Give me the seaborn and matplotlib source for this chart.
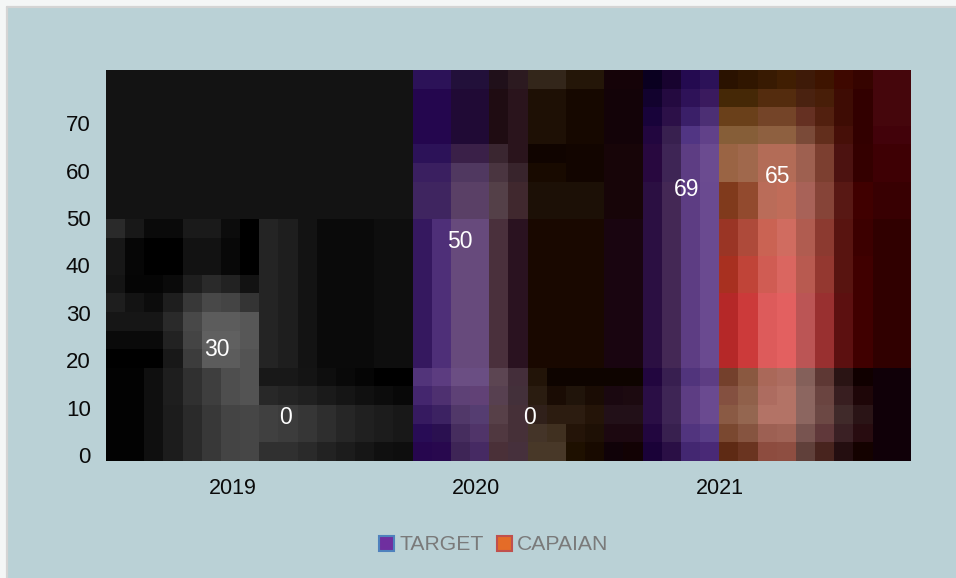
import numpy as np
import pandas as pd
import matplotlib
matplotlib.use("Agg")
import matplotlib.pyplot as plt
from matplotlib.patches import Rectangle
import seaborn as sns

# Chart values
years = ["2019", "2020", "2021"]
target = [30, 50, 69]
capaian = [0, 0, 65]
series_names = ["TARGET", "CAPAIAN"]
y_ticks = [0, 10, 20, 30, 40, 50, 60, 70]

W, H = 956, 578
BG = "#bad1d6"
sns.set_theme(style="white")
plt.rcParams["font.family"] = ["Liberation Sans", "DejaVu Sans"]

fig = plt.figure(figsize=(W / 100, H / 100), dpi=100, facecolor=BG)
L, R, T, B = 106, 910, 70, 461
ROWS, COLS = 21, 42
ax = fig.add_axes([L / W, 1 - B / H, (R - L) / W, (B - T) / H], facecolor="#131313")

df = pd.DataFrame({
    "year": years * 2,
    "series": [series_names[0]] * 3 + [series_names[1]] * 3,
    "value": target + capaian,
})
sns.barplot(data=df, x="year", y="value", hue="series", ax=ax, width=0.65, gap=0.4,
            palette=["#6a4a90", "#e36060"], saturation=1, alpha=0.2, legend=False, zorder=3)
ax.patches[0].set_facecolor("#606060")
ax.patches[0].set_alpha(0.2)

# One category spans 230 px and the first group is centred at x=277
px_per_cat, x_of_first = 230.0, 277.0
px_per_val, y_of_zero = 4.74, 455.0
xlim = ((L - x_of_first) / px_per_cat, (R - x_of_first) / px_per_cat)
ylim = ((y_of_zero - B) / px_per_val, (y_of_zero - T) / px_per_val)
ax.set_xlim(*xlim)
ax.set_ylim(*ylim)


def px_x(p):
    return (p - x_of_first) / px_per_cat


def px_y(p):
    return (y_of_zero - p) / px_per_val


# Backdrop shading per grid row: (first row, last row + 1, first column, colour runs)
shade = [
    (0, 8, 0, "131313*16"),
    (8, 9, 0, "2a2a2a 181818 0a0a0a*2 1a1a1a*2 0c0c0c 000000"),
    (9, 11, 0, "171717 060606 000000*2 121212*2 080808 000000"),
    (11, 12, 0, "141414 050505*2 0a0a0a 1e1e1e 2a2a2a 222222 121212"),
    (12, 13, 0, "1e1e1e 131313 0c0c0c 1e1e1e 383838 484848 444444 343434"),
    (13, 14, 0, "161616*3 2a2a2a 484848 5c5c5c*2 555555"),
    (14, 15, 0, "0a0a0a*3 222222 444444 606060*2 555555"),
    (15, 16, 0, "000000*3 181818 3c3c3c 5c5c5c*2 505050"),
    (8, 16, 8, "242424 1e1e1e 131313 0a0a0a*3 0e0e0e*2"),
    (16, 18, 0, "020202*2 0f0f0f 1e1e1e 303030 3e3e3e 4a4a4a 505050"),
    (18, 21, 0, "020202*2 0f0f0f 1c1c1c 2a2a2a 383838 3e3e3e 404040"),
    (16, 17, 8, "181818*2 141414 0e0e0e 090909 050505 000000*2"),
    (17, 18, 8, "282828 242424 202020 1a1a1a 151515 101010 0c0c0c 080808"),
    (18, 20, 8, "404040 3c3c3c 363636 2e2e2e 262626 202020 1c1c1c 181818"),
    (20, 21, 8, "303030*2 2a2a2a 222222 1c1c1c 161616 101010 0e0e0e"),
    # second group, upper rows
    (0, 1, 16, "2c1258*2 22103a*2 20101a 2c1a20 33261a*2 241608*2 150308*2"),
    (1, 4, 16, "24064e*2 200a35*2 1f0c12 2a141c 1e1005*2 160800*2 130308*2"),
    (4, 5, 16, "2c1258*2 3a2048*2 3a2630 2a141c 100400*2 120500*2 170508*2"),
    (5, 6, 16, "3a1f60*2 503860*2 4a3540 38242c 180a00*2 120500*2 170508*2"),
    (6, 8, 16, "3f2560*2 5a4066*2 544048 40282e 1c1006*2 1c1006*2 170508*2"),
    # second group, middle rows
    (8, 16, 16, "35185f 4e2f78 674a78*2 4a303c 2a1220 190800*2 190800*2 190510*2"),
    # second group, lower rows
    (16, 17, 16, "52347a 5c3c80 6c5080 6a5080 5c4552 442e3a 221408 0e0400*3 0e0400 0e0400"),
    (17, 18, 16, "44266e 4e3070 5c4070 604070 574050 43303a 2a1c10 1a0c04 20140a 1a0c04 1a0810 1c0a10"),
    (18, 19, 16, "361a60 3c2262 4c3460 503a6a 574048 463038 30201a 2c1c10*2 241408 221018*2"),
    (19, 20, 16, "280c55 2a1050 3e2652 4a2f60 503840 463038 443428 403020 241408 1e1005 1c0810*2"),
    (20, 21, 16, "26064e 28084e 341c48 3e2358 4a3038 46303c 483828*2 1e1000 180a00 100208 120204"),
    # third group, first series
    (0, 1, 28, "0a0020 18032f 240a50 2c1258"),
    (1, 2, 28, "12022e 240a40 2e1258 3a1a5e"),
    (2, 3, 28, "18033a 2c1048 3a1f68 4c2f74"),
    (3, 4, 28, "22063f 38204f 4c3080 5f4088"),
    (4, 6, 28, "28083f 3e2555 5a3a80 6c4c90"),
    (6, 16, 28, "2b0f42 442855 5a3a80 6a4a90"),
    (16, 17, 28, "22063f 381f50 4c2f78 5a3a80"),
    (17, 19, 28, "2a0e45 3e2555 5a3a80 6a4a90"),
    (19, 20, 28, "22063f 38204f 4c2f7a 553a85"),
    (20, 21, 28, "1a0238 2a0f45 3a1f6a 422270"),
    # third group, second series
    (0, 1, 32, "2a1200 301600 381a02 401e02 3e1a08 3e1400 3e0800 360400 45060c*2"),
    (1, 2, 32, "452806*2 542c0e*2 4a2210 481e08 3e0c04 320000 45060c*2"),
    (2, 3, 32, "6a401a*2 744428*2 653022 52200f 3e0c04 320000 45060c*2"),
    (3, 4, 32, "865e38*2 8e6040*2 7a4a38 622e1c 460f08 320000 42020a*2"),
    (4, 6, 32, "9a6444 a0684c a87055*2 9e6050 7c3f30 4c1210 340000 3e0004*2"),
    (6, 8, 32, "803a1c 924a2e b07058 b87058 a86258 864438 581814 400000 380002*2"),
    (8, 10, 32, "9a3525 ae4a3a c46450 cc7060 b05c50 8c3a30 581410 3c0000 300000*2"),
    (10, 12, 32, "a83020 c04438 cc5c50 d86860 b85a50 943830 581410 400000 300000*2"),
    (12, 16, 32, "b52828 cc3a3a dc5a5a e36060 bb5555 993030 5c1010 400000 300000*2"),
    (16, 17, 32, "74402c 8a5840 9c6a58 a07060 84605a 5e3834 2a1414 100000 100008*2"),
    (17, 18, 32, "845040 90604a a07060 a87868 8c6660 6a4440 381e20 1e0608 100008*2"),
    (18, 19, 32, "8a5a44 946650 a87868*2 8c6660 6c4844 402a2a 2a1416 100008*2"),
    (19, 20, 32, "7a4830 865440 8c6050 906454 785450 60383a 3a2024 280c10 100008*2"),
    (20, 21, 32, "5e2a14 6a3420 784838 7a4a3a 60403a 48241e 240e10 140200 100008*2"),
]

cell_w = (R - L) / COLS
cell_h = (B - T) / ROWS
for r0, r1, c0, runs in shade:
    c = c0
    for token in runs.split():
        colour, _, n = token.partition("*")
        n = int(n or 1)
        x0, x1 = L + c * cell_w, L + (c + n) * cell_w
        y0, y1 = T + r0 * cell_h, T + r1 * cell_h
        ax.add_patch(Rectangle((px_x(x0), px_y(y1)), px_x(x1) - px_x(x0), px_y(y0) - px_y(y1),
                               facecolor="#" + colour, edgecolor="#" + colour, linewidth=0.3, zorder=1))
        c += n

for s in ax.spines.values():
    s.set_visible(False)
ax.set_xlabel("")
ax.set_ylabel("")
ax.set_xticks([])
ax.set_yticks([])

# Coarsen the plot area into flat cells
fig.canvas.draw()
buf = np.asarray(fig.canvas.buffer_rgba())[T:B, L:R, :3].astype(float)
r_edges = np.linspace(0, buf.shape[0], ROWS + 1).astype(int)
c_edges = np.linspace(0, buf.shape[1], COLS + 1).astype(int)
cells = np.zeros((ROWS, COLS, 3))
for i in range(ROWS):
    for j in range(COLS):
        cells[i, j] = np.median(buf[r_edges[i]:r_edges[i + 1], c_edges[j]:c_edges[j + 1]].reshape(-1, 3), axis=0)
ax.imshow(cells.astype(np.uint8), extent=(*xlim, *ylim), origin="upper",
          aspect="auto", interpolation="nearest", zorder=5)
ax.set_xlim(*xlim)
ax.set_ylim(*ylim)

# Axis labels
ax.set_yticks(y_ticks)
ax.set_yticklabels([str(v) for v in y_ticks], fontsize=16, color="#0a0a0a")
ax.tick_params(axis="y", length=0, pad=11)
ax.set_xticks([px_x(233), px_x(476), px_x(720)])
ax.set_xticklabels(years, fontsize=15.5, color="#0a0a0a")
ax.tick_params(axis="x", length=0, pad=12)

# Value labels
label_px = [(217, 349.5), (285, 418), (460, 241.5), (529, 418), (687, 189.5), (778, 176.5)]
label_vals = [target[0], capaian[0], target[1], capaian[1], target[2], capaian[2]]
for (px, py), v in zip(label_px, label_vals):
    ax.text(px_x(px), px_y(py), str(v), color="white", fontsize=16.5, ha="center", va="center", zorder=6)

# Legend swatches and text
for x, face, edge in [(379, "#6f2f9f", "#4f81bd"), (497, "#e46c28", "#c0504d")]:
    fig.add_artist(Rectangle((x / W, 1 - 551 / H), 15 / W, 15 / H, facecolor=face, edgecolor=edge,
                             linewidth=1.5, transform=fig.transFigure))
fig.text(399 / W, 1 - 544 / H, series_names[0], fontsize=15.2, color="#7a7a7a", va="center")
fig.text(517 / W, 1 - 544 / H, series_names[1], fontsize=15.2, color="#7a7a7a", va="center")

# White margin on the top and left, then the frame line
for x, y, w, h in [(0, 0, 956, 6), (0, 0, 6, 578)]:
    fig.add_artist(Rectangle((x / W, 1 - (y + h) / H), w / W, h / H, facecolor="#f4f6f6", edgecolor="none",
                             transform=fig.transFigure))
for xs, ys in [((6.5, 956), (6.5, 6.5)), ((6.5, 6.5), (6.5, 578))]:
    fig.add_artist(plt.Line2D([x / W for x in xs], [1 - y / H for y in ys], color="#d4d4d4",
                              linewidth=1.6, transform=fig.transFigure))

fig.savefig("out.png", dpi=100, facecolor=BG)
